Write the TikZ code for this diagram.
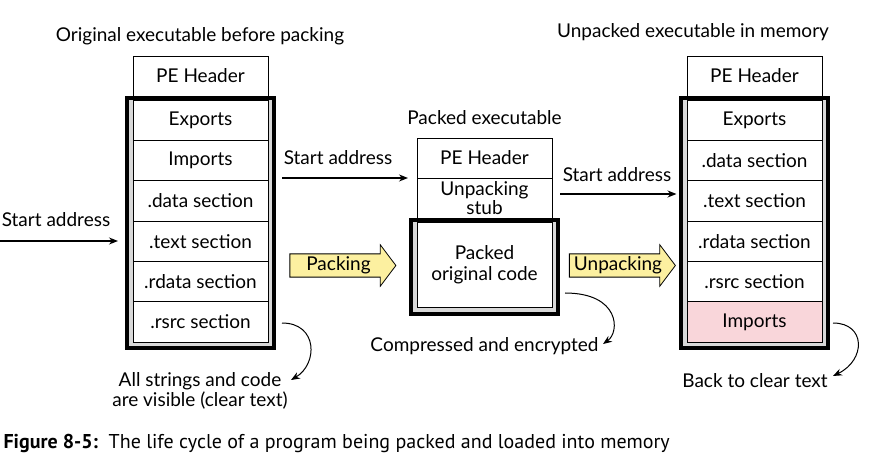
\documentclass[tikz,border=0pt]{standalone}
\usepackage{fontspec}
\setmainfont{Lato}
\newfontfamily\capfont{PT Sans}
\usetikzlibrary{arrows.meta,shapes.arrows}
\definecolor{packyellow}{RGB}{252,240,160}
\definecolor{importpink}{RGB}{249,214,218}
\definecolor{framegray}{RGB}{216,216,216}

\begin{document}
\begin{tikzpicture}
        [x=1pt,y=-1pt,every node/.style={font=\fontsize{19}{20}\selectfont},
         sect/.style={draw,line width=0.8pt,fill=white,minimum width=135pt,minimum height=40.33pt,inner sep=0pt,outer sep=0pt},
         hdr/.style={sect,minimum height=40pt},
         frame/.style={draw,line width=4pt,fill=framegray,minimum width=147pt,inner sep=0pt},
         flow/.style={single arrow,draw,fill=packyellow,line width=0.8pt,single arrow head extend=9pt,single arrow tip angle=106,minimum height=106pt,inner xsep=2pt,inner ysep=2.5pt},
         addr/.style={-{Stealth[length=9pt,width=7pt]},line width=1.4pt},
         note/.style={-{Stealth[length=9pt,width=7pt]},line width=1pt}]
        \useasboundingbox (0,0) rectangle (878,470);

        %Original executable
        \node (Ltitle) at (200,36)              {Original executable before packing};
        \node[frame,minimum height=250pt] (Lfr) at (200.5,223) {};
        \node[hdr]  (Lhead) at (200.5,76)       {PE Header};
        \node[sect] (L1) at (200.5,120.17)      {Exports};
        \node[sect] (L2) at (200.5,160.5)       {Imports};
        \node[sect] (L3) at (200.5,200.83)      {.data section};
        \node[sect] (L4) at (200.5,241.17)      {.text section};
        \node[sect] (L5) at (200.5,281.5)       {.rdata section};
        \node[sect] (L6) at (200.5,321.83)      {.rsrc section};
        \node[align=center] (Lnote) at (200,391) {All strings and code\\are visible (clear text)};

        \node (Lsa) at (56,220)                 {Start address};
        \coordinate (Lsrc) at (0,241);
        \draw[addr,shorten >=7pt] (Lsrc) -- (Lsrc -| Lfr.west);

        \coordinate (Lc1) at (282,323);
        \coordinate (Lc2) at (291,380);
        \draw[note] (Lc1) .. controls (318,323) and (318,364) .. (Lc2);

        %Packed executable
        \node[flow] (pack) at (338.5,265.5)     {Packing};
        \node (Mtitle) at (484.5,118)           {Packed executable};
        \node[frame,minimum height=94pt] (Mfr) at (484.5,267) {};
        \node[hdr]  (Mhead) at (484.5,158)      {PE Header};
        \node[hdr,align=center,font=\fontsize{19}{16}\selectfont] (Mstub) at (484.5,198) {Unpacking\\stub};
        \node[sect,minimum height=85pt,align=center,font=\fontsize{19}{21}\selectfont] (Mcode) at (484.5,264.5) {Packed\\original code};
        \node (Mnote) at (484.5,346)            {Compressed and encrypted};

        \node (Msa) at (338,158)                {Start address};
        \coordinate (Msrc) at (282,178);
        \draw[addr,shorten >=9pt] (Msrc) -- (Mstub.north west);

        \coordinate (Mc1) at (565,293);
        \coordinate (Mc2) at (603,344);
        \draw[note] (Mc1) .. controls (620,293) and (620,332) .. (Mc2);

        %Unpacked executable
        \node[flow] (unpack) at (618,265.5)     {Unpacking};
        \node (Rtitle) at (693,32)              {Unpacked executable in memory};
        \node[frame,minimum height=250pt] (Rfr) at (754,223) {};
        \node[hdr]  (Rhead) at (754.5,76)       {PE Header};
        \node[sect] (R1) at (754.5,120.17)      {Exports};
        \node[sect] (R2) at (754.5,160.5)       {.data section};
        \node[sect] (R3) at (754.5,200.83)      {.text section};
        \node[sect] (R4) at (754.5,241.17)      {.rdata section};
        \node[sect] (R5) at (754.5,281.5)       {.rsrc section};
        \node[sect,fill=importpink] (R6) at (754.5,321.83) {Imports};
        \node (Rnote) at (755,381)              {Back to clear text};

        \node (Rsa) at (617,175)                {Start address};
        \coordinate (Rsrc) at (560,194);
        \draw[addr,shorten >=2pt] (Rsrc) -- (Rsrc -| Rfr.west);

        \coordinate (Rc1) at (833,323);
        \coordinate (Rc2) at (833,376);
        \draw[note] (Rc1) .. controls (866,323) and (866,360) .. (Rc2);

        %Caption
        \node[anchor=west,font=\capfont\fontsize{20}{22}\selectfont] (cap) at (0,443)
                {\textbf{Figure 8-5:}\ \ The life cycle of a program being packed and loaded into memory};
\end{tikzpicture}
\end{document}
